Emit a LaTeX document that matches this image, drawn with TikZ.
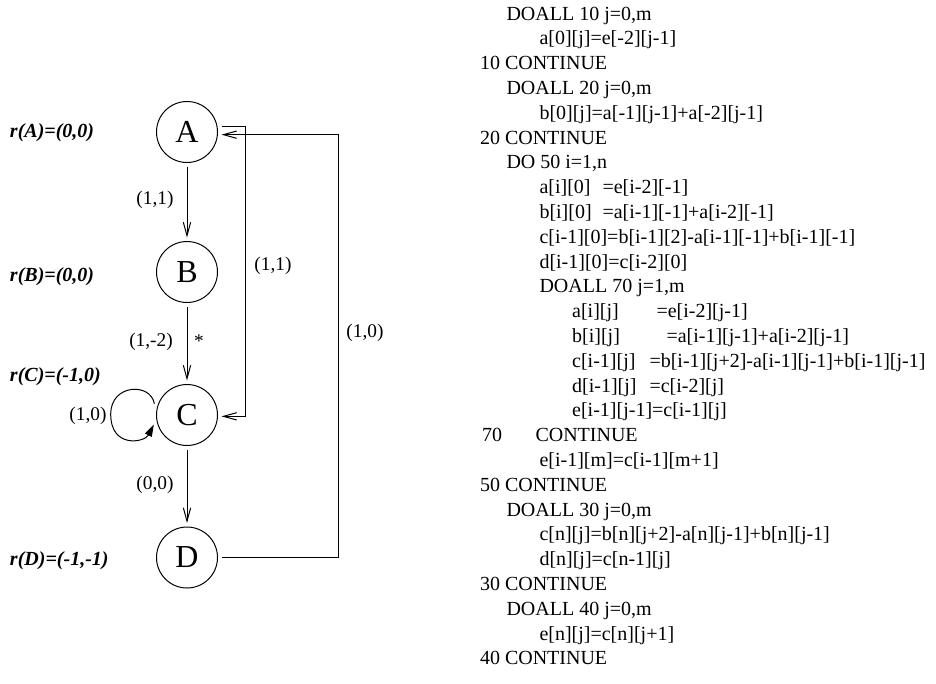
\documentclass[tikz,border=0pt]{standalone}
\usepackage{fontspec}
\setmainfont{Liberation Serif}
\usetikzlibrary{arrows.meta}
\tikzset{every picture/.style={line width=0.75pt}}

\begin{document}
\begin{tikzpicture}[x=0.75pt,y=0.75pt,yscale=-1,xscale=1,
  state/.style={draw,circle,minimum size=45.75pt,inner sep=0pt,outer sep=3pt,font=\fontsize{24}{28}\selectfont},
  dep/.style={-{Straight Barb[length=10pt,width=5.5pt]}},
  selfdep/.style={-{Triangle[length=9pt,width=5.5pt]}},
  lbl/.style={inner sep=0pt,font=\fontsize{14.5}{17}\selectfont},
  rlab/.style={anchor=base west,inner sep=0pt,font=\fontsize{15}{18}\selectfont\bfseries\itshape},
  code/.style={anchor=base west,inner sep=0pt,font=\fontsize{15}{18}\selectfont}]
\useasboundingbox (0,0) rectangle (936,683);

%Shape: Circle
\node [state] (A) at (187,132) {A};
\node [state] (B) at (187,272) {B};
\node [state] (C) at (187,415) {C};
\node [state] (D) at (187,557.5) {D};

%Straight Lines
\draw [dep] (A) -- (B);
\draw [dep] (B) -- (C);
\draw [dep] (C) -- (D);
%Elbow: A to C
\draw [dep] ([yshift=-4.5pt]A.east) -- ++(24,0) |- ([yshift=1pt]C.east);
%Elbow: D back to A
\draw [dep] (D.east) -- ++(117,0) |- ([yshift=2pt]A.east);
%Curve: self loop on C
\draw [selfdep] (C.161) .. controls +(-100:22) and +(-90:30) .. (110.7,414) .. controls +(90:35) and +(117:20) .. (C.196);

% Text Node
\node [lbl] (lab1) at (155,200) {(1,1)};
\node [lbl] (lab2) at (273,266) {(1,1)};
\node [lbl] (lab3) at (151,342) {(1,-2)};
\node [lbl] (star) at (199,341) {*};
\node [lbl] (lab4) at (88,416) {(1,0)};
\node [lbl] (lab5) at (155,485) {(0,0)};
\node [lbl] (lab6) at (365,333) {(1,0)};

% Text Node
\node [rlab] (rA) at (9.5,137) {r(A)=(0,0)};
\node [rlab] (rB) at (9.5,281) {r(B)=(0,0)};
\node [rlab] (rC) at (9.5,381) {r(C)=(-1,0)};
\node [rlab] (rD) at (9.5,565) {r(D)=(-1,-1)};

% Text Node: loop code
\node [code] (c1) at (506,20) {DOALL 10 j=0,m};
\node [code] (c2) at (539,44.8) {a[0][j]=e[-2][j-1]};
\node [code] (c3) at (479.5,69.6) {10 CONTINUE};
\node [code] (c4) at (506,94.4) {DOALL 20 j=0,m};
\node [code] (c5) at (539,119.2) {b[0][j]=a[-1][j-1]+a[-2][j-1]};
\node [code] (c6) at (479.5,144) {20 CONTINUE};
\node [code] (c7) at (506,168.8) {DO 50 i=1,n};
\node [code] (c8) at (539,193.6) {a[i][0]};
\node [code] (c8r) at (602,193.6) {=e[i-2][-1]};
\node [code] (c9) at (539,218.4) {b[i][0]};
\node [code] (c9r) at (602,218.4) {=a[i-1][-1]+a[i-2][-1]};
\node [code] (c10) at (539,243.2) {c[i-1][0]=b[i-1][2]-a[i-1][-1]+b[i-1][-1]};
\node [code] (c11) at (539,268) {d[i-1][0]=c[i-2][0]};
\node [code] (c12) at (539,292.8) {DOALL 70 j=1,m};
\node [code] (c13) at (571.7,317.6) {a[i][j]};
\node [code] (c13r) at (656,317.6) {=e[i-2][j-1]};
\node [code] (c14) at (571.7,342.4) {b[i][j]};
\node [code] (c14r) at (666,342.4) {=a[i-1][j-1]+a[i-2][j-1]};
\node [code] (c15) at (571.7,367.2) {c[i-1][j]};
\node [code] (c15r) at (649,367.2) {=b[i-1][j+2]-a[i-1][j-1]+b[i-1][j-1]};
\node [code] (c16) at (571.7,392) {d[i-1][j]};
\node [code] (c16r) at (649,392) {=c[i-2][j]};
\node [code] (c17) at (571.7,416.8) {e[i-1][j-1]=c[i-1][j]};
\node [code] (c18) at (481.7,441.6) {70};
\node [code] (c18r) at (535,441.6) {CONTINUE};
\node [code] (c19) at (539,466.4) {e[i-1][m]=c[i-1][m+1]};
\node [code] (c20) at (479.5,491.2) {50 CONTINUE};
\node [code] (c21) at (506,516) {DOALL 30 j=0,m};
\node [code] (c22) at (539,540.8) {c[n][j]=b[n][j+2]-a[n][j-1]+b[n][j-1]};
\node [code] (c23) at (539,565.6) {d[n][j]=c[n-1][j]};
\node [code] (c24) at (479.5,590.4) {30 CONTINUE};
\node [code] (c25) at (506,615.2) {DOALL 40 j=0,m};
\node [code] (c26) at (539,640) {e[n][j]=c[n][j+1]};
\node [code] (c27) at (479.5,664.8) {40 CONTINUE};

\end{tikzpicture}
\end{document}
